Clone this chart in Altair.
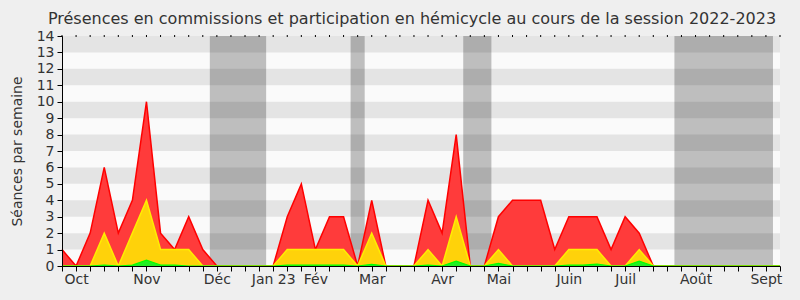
import altair as alt
import pandas as pd

# Weekly index (0 = first week of the session)
semaines = list(range(52))

rouge = [1, 0, 2, 6, 2, 4, 10, 2, 1, 3, 1, 0, 0, 0, 0, 0, 3, 5, 1, 3,
         3, 0, 4, 0, 0, 0, 4, 2, 8, 0, 0, 3, 4, 4, 4, 1, 3, 3, 3, 1,
         3, 2, 0, 0, 0, 0, 0, 0, 0, 0, 0, 0]
jaune = [0, 0, 0, 2, 0, 2, 4, 1, 1, 1, 0, 0, 0, 0, 0, 0, 1, 1, 1, 1,
         1, 0, 2, 0, 0, 0, 1, 0, 3, 0, 0, 1, 0, 0, 0, 0, 1, 1, 1, 0,
         0, 1, 0, 0, 0, 0, 0, 0, 0, 0, 0, 0]
vert = [0, 0, 0, 0.06, 0, 0.05, 0.35, 0.06, 0.05, 0, 0, 0, 0, 0, 0, 0, 0.05, 0.05, 0.05, 0.05,
        0.05, 0, 0.1, 0, 0, 0, 0.05, 0, 0.3, 0, 0, 0.16, 0, 0, 0, 0, 0.05, 0.05, 0.12, 0,
        0, 0.3, 0, 0, 0, 0, 0, 0, 0, 0, 0, 0]

mois_labels = ["Oct", "Nov", "Déc", "Jan 23", "Fév", "Mar", "Avr", "Mai",
               "Juin", "Juil", "Août", "Sept"]
mois_pos = [1, 6, 11, 15, 18, 22, 27, 31, 36, 40, 45, 50]

vac_debut = [10.5, 20.5, 28.5, 43.5]
vac_fin = [14.5, 21.5, 30.5, 50.5]

bande_bas = [1, 3, 5, 7, 9, 11, 13]
bande_haut = [2, 4, 6, 8, 10, 12, 14]

Y_MAX = 14

df = pd.DataFrame({"semaine": semaines, "rouge": rouge, "jaune": jaune, "vert": vert,
                   "sommet": [Y_MAX] * len(semaines)})
df_vac = pd.DataFrame({"debut": vac_debut, "fin": vac_fin})
df_bandes = pd.DataFrame({"bas": bande_bas, "haut": bande_haut})

xscale = alt.Scale(domain=[0, 51], nice=False, zero=False)
yscale = alt.Scale(domain=[0, Y_MAX], nice=False)

label_expr = " : ".join(
    f"datum.value == {p} ? '{l}'" for p, l in zip(mois_pos, mois_labels)
) + " : ''"

x_axis = alt.Axis(
    values=semaines,
    labelExpr=label_expr,
    labelOverlap=False,
    labelFlush=False,
    tickSize=5,
    labelPadding=1,
    labelFontSize=14,
    labelColor="#333333",
    domainColor="#000000",
    tickColor="#000000",
    title=None,
    grid=False,
    zindex=1,
)
y_axis = alt.Axis(
    values=list(range(15)),
    tickSize=5,
    labelPadding=3,
    labelFontSize=14,
    labelColor="#333333",
    domainColor="#000000",
    tickColor="#000000",
    title="Séances par semaine",
    titleFontSize=14,
    titleFontWeight="normal",
    titleColor="#333333",
    titlePadding=12,
    grid=False,
    zindex=1,
)

X = lambda f: alt.X(f, scale=xscale, axis=x_axis)
Y = lambda f: alt.Y(f, scale=yscale, axis=y_axis)

vac = alt.Chart(df_vac).mark_rect(color="#bebebe").encode(
    x=X("debut:Q"),
    x2="fin:Q",
)

bandes = alt.Chart(df_bandes).mark_rect(color="#000000", opacity=0.085).encode(
    y=Y("bas:Q"),
    y2="haut:Q",
)

aire_rouge = alt.Chart(df).mark_area(
    color="#ff3b3b", opacity=1, line={"color": "#ff0000", "strokeWidth": 1.5}
).encode(x=X("semaine:Q"), y=Y("rouge:Q"))

aire_jaune = alt.Chart(df).mark_area(
    color="#ffd20a", opacity=1, line={"color": "#ffee00", "strokeWidth": 1.5}
).encode(x=X("semaine:Q"), y=Y("jaune:Q"))

aire_verte = alt.Chart(df).mark_area(
    color="#22ee22", opacity=1, line={"color": "#00ff00", "strokeWidth": 1.2}
).encode(x=X("semaine:Q"), y=Y("vert:Q"))

# small dotted ticks along the top edge, one per week
ticks_haut = alt.Chart(df).mark_tick(
    color="#000000", orient="vertical", size=2, thickness=1, opacity=1
).encode(x=X("semaine:Q"), y=Y("sommet:Q"))

chart = alt.layer(vac, bandes, aire_rouge, aire_jaune, aire_verte, ticks_haut).properties(
    width=718,
    height=230,
    title=alt.TitleParams(
        "Présences en commissions et participation en hémicycle au cours de la session 2022-2023",
        fontSize=16,
        font="DejaVu Sans",
        fontWeight="normal",
        color="#333333",
        anchor="middle",
        dx=-9,
        offset=2,
    ),
).configure(font="DejaVu Sans", background="#efefef", autosize=alt.AutoSizeParams(type="none"),
            padding={"left": 62, "top": 36, "right": 20, "bottom": 34}
).configure_view(fill="#fafafa", stroke=None)

chart.save("out.html", embed_options={"renderer": "svg", "actions": False})
